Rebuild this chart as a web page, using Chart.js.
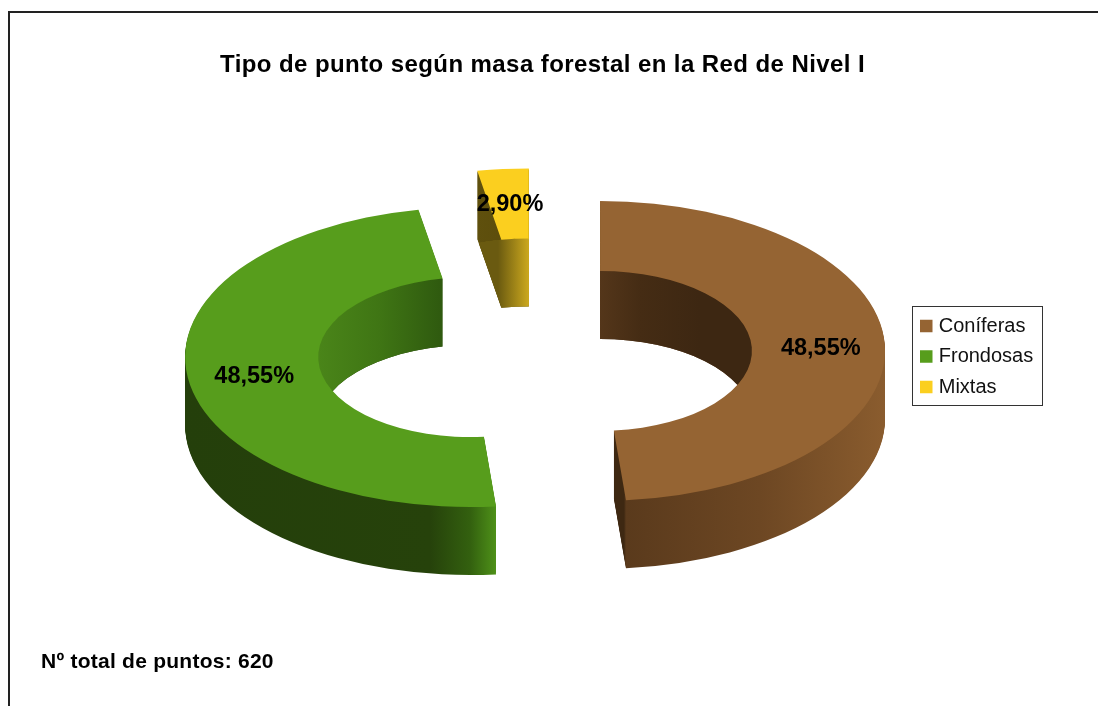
<!DOCTYPE html>
<html lang="es">
<head>
<meta charset="utf-8">
<title>Tipo de punto según masa forestal</title>
<script src="https://cdn.jsdelivr.net/npm/chart.js@4"></script>
<style>
  html, body { margin: 0; padding: 0; background: #fff; overflow: hidden; }
  #frame { position: absolute; left: 8px; top: 11px; width: 1090px; height: 695px;
           border-left: 2px solid #222; border-top: 2px solid #222; box-sizing: border-box; }
  #forestChart { position: absolute; left: 0; top: 0; }
</style>
</head>
<body>
<div id="frame"></div>
<canvas id="forestChart" width="1098" height="706"></canvas>
<script>
const categories = ['Coníferas', 'Frondosas', 'Mixtas'];
const percentages = [48.55, 48.55, 2.90];
const chartTitle = 'Tipo de punto según masa forestal en la Red de Nivel I';
const totalNote = 'Nº total de puntos: 620';

const topColors = ['#956433', '#579d1c', '#fbcf1f'];
// wall shades as [screen x, colour], one list per slice
const outerWalls = [
    [[624, '#3e2812'], [626, '#5a3a1c'], [760, '#6d4723'], [885, '#8a5c2e']],
    [[185, '#243f0b'], [430, '#26420b'], [470, '#33600f'], [495, '#4d8f18']],
    [[477, '#5f500d'], [497, '#5d4e0c'], [500, '#5d4e0c']]
];
const innerWalls = [
    [[600, '#54361a'], [640, '#452c14'], [700, '#3d2712'], [750, '#3d2712']],
    [[318, '#4a8519'], [380, '#3f7514'], [441, '#2f5a0f']],
    [[498, '#6a5a10'], [528, '#c9a61e']]
];

// ring geometry as seen on the page
const centerX = 534.8;
const centerY = 352.5;
const outerRadius = 285;
const cutout = '53.3%';
const explode = 65.3;
const squash = 0.526;
const depth = 68;
const labelNudge = [[2.5, 3], [0.5, 4], [1, 1]];

function sliceOffset(arc) {
    const mid = (arc.startAngle + arc.endAngle) / 2;
    return { x: Math.cos(mid) * explode, y: Math.sin(mid) * explode };
}

function applyView(ctx, arc, drop) {
    const off = sliceOffset(arc);
    ctx.translate(centerX, centerY + drop);
    ctx.scale(1, squash);
    ctx.translate(off.x - arc.x, off.y - arc.y);
}

function wallGradient(ctx, arc, stops) {
    const shift = centerX + sliceOffset(arc).x - arc.x;
    const x0 = stops[0][0];
    const x1 = stops[stops.length - 1][0];
    const grad = ctx.createLinearGradient(x0 - shift, 0, x1 - shift, 0);
    stops.forEach(s => grad.addColorStop((s[0] - x0) / (x1 - x0), s[1]));
    return grad;
}

function drawStack(ctx, arc, stops, clipHole) {
    const saved = arc.options;
    arc.options = Object.assign({}, saved, { backgroundColor: wallGradient(ctx, arc, stops) });
    for (let drop = depth; drop > 0; drop--) {
        ctx.save();
        if (clipHole) {
            ctx.save();
            applyView(ctx, arc, 0);
            ctx.beginPath();
            ctx.arc(arc.x, arc.y, arc.innerRadius, 0, Math.PI * 2);
            ctx.restore();
            ctx.clip();
        }
        applyView(ctx, arc, drop);
        arc.draw(ctx);
        ctx.restore();
    }
    arc.options = saved;
}

// the title block has no letter spacing option, so set it on the context around its draw
function spaceText(box, spacing) {
    const draw = box.draw;
    box.draw = function (area) {
        box.ctx.letterSpacing = spacing;
        draw.call(box, area);
        box.ctx.letterSpacing = '0px';
    };
}

const ringPlugin = {
    id: 'ring3d',
    beforeDatasetDraw() {
        return false; // slices are painted below with the view applied
    },
    beforeDatasetsDraw(chart) {
        const ctx = chart.ctx;
        chart.getDatasetMeta(0).data.forEach((arc, i) => {
            drawStack(ctx, arc, outerWalls[i], false);
            drawStack(ctx, arc, innerWalls[i], true);
            ctx.save();
            applyView(ctx, arc, 0);
            arc.draw(ctx);
            ctx.restore();
        });
    },
    afterDatasetsDraw(chart) {
        const ctx = chart.ctx;
        ctx.save();
        ctx.font = 'bold 23.5px "Liberation Sans"';
        ctx.fillStyle = '#000';
        ctx.textAlign = 'center';
        ctx.textBaseline = 'middle';
        chart.getDatasetMeta(0).data.forEach((arc, i) => {
            const off = sliceOffset(arc);
            const mid = (arc.startAngle + arc.endAngle) / 2;
            const r = (arc.innerRadius + arc.outerRadius) / 2;
            const x = centerX + off.x + Math.cos(mid) * r + labelNudge[i][0];
            const y = centerY + (off.y + Math.sin(mid) * r) * squash + labelNudge[i][1];
            ctx.fillText(percentages[i].toFixed(2).replace('.', ',') + '%', x, y);
        });
        ctx.restore();
    },
    afterLayout(chart) {
        const legend = chart.legend;
        legend.left = 913.25;
        legend.right = 1098;
        legend.top = 305.5;
        legend.bottom = 500;
        chart.boxes.forEach(box => {
            if (box.options && box.options.text === chartTitle && !box.spaced) {
                spaceText(box, '0.42px');
                box.spaced = true;
            }
            if (box.options && box.options.text === totalNote && !box.spaced) {
                spaceText(box, '0.25px');
                box.spaced = true;
            }
        });
    },
    afterDraw(chart) {
        const ctx = chart.ctx;
        ctx.save();
        ctx.strokeStyle = '#333';
        ctx.lineWidth = 1;
        ctx.strokeRect(912.5, 306.5, 130, 99);
        ctx.restore();
    }
};

const forestCtx = document.getElementById('forestChart').getContext('2d');
const forestChart = new Chart(forestCtx, {
    type: 'doughnut',
    data: {
        labels: categories,
        datasets: [{
            data: percentages,
            backgroundColor: topColors,
            borderWidth: 0,
            hoverOffset: 0
        }]
    },
    options: {
        responsive: false,
        animation: false,
        events: [],
        radius: outerRadius,
        cutout: cutout,
        layout: { padding: { left: 41, right: 54 } },
        plugins: {
            tooltip: { enabled: false },
            title: {
                display: true,
                text: chartTitle,
                color: '#000',
                font: { family: '"Liberation Sans"', size: 24, weight: 'bold' },
                padding: { top: 50.5, bottom: 10 }
            },
            subtitle: {
                display: true,
                text: totalNote,
                position: 'bottom',
                align: 'start',
                color: '#000',
                font: { family: '"Liberation Sans"', size: 21, weight: 'bold' },
                padding: { top: 4, bottom: 31 }
            },
            legend: {
                position: 'right',
                align: 'start',
                labels: {
                    boxWidth: 5,
                    boxHeight: 5,
                    padding: 10.5,
                    color: '#111',
                    font: { family: '"Liberation Sans"', size: 20 },
                    // thick stroke keeps the swatch 12.5px while the text sits closer to it
                    generateLabels(chart) {
                        const items = Chart.overrides.doughnut.plugins.legend.labels.generateLabels(chart);
                        return items.map(item => Object.assign(item, { lineWidth: 7.5, strokeStyle: item.fillStyle }));
                    }
                }
            }
        }
    },
    plugins: [ringPlugin]
});
</script>
</body>
</html>
